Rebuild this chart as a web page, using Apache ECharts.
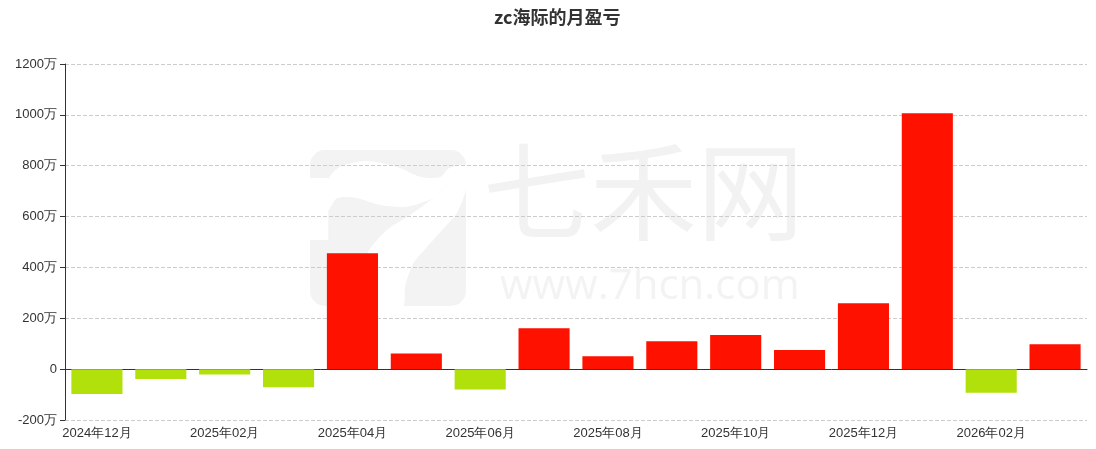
<!DOCTYPE html>
<html>
<head>
<meta charset="utf-8">
<script src="https://cdn.jsdelivr.net/npm/echarts@6/dist/echarts.min.js"></script>
<style>html,body{margin:0;padding:0;background:#fff}#c{width:1096px;height:449px}</style>
</head>
<body>
<div id="c"></div>
<script>
const titleText = 'zc海际的月盈亏';
const categories = ['2024年12月','2025年01月','2025年02月','2025年03月','2025年04月','2025年05月','2025年06月','2025年07月','2025年08月','2025年09月','2025年10月','2025年11月','2025年12月','2026年01月','2026年02月','2026年03月'];
const values = [-98, -39, -21, -71, 456, 62, -80, 161, 51, 110, 134, 75, 259, 1006, -93, 98];
const yMin = -200, yMax = 1200, yInterval = 200;

const wmGray = '#f3f3f3';
const chart = echarts.init(document.getElementById('c'));
chart.setOption({
  animation: false,
  title: { text: titleText, left: 489, top: 3, textStyle: { fontSize: 18, fontWeight: 'bold', color: '#333', fontFamily: 'Noto Sans CJK SC' } },
  graphic: [
    { type: 'rect', z: -2, silent: true, shape: { x: 310, y: 150, width: 156, height: 156, r: 15 }, style: { fill: wmGray } },
    { type: 'rect', z: -1, silent: true, shape: { x: 300, y: 178, width: 28.3, height: 62 }, style: { fill: '#fff' } },
    { type: 'polygon', z: -1, silent: true, shape: { smooth: 0.25, points: [
      [328.3,179.3],[340,166.7],[366.7,160.7],[396.7,166.7],[420,176.7],[440,177.3],[449,168.3],[466,165],
      [466,186.7],[445,188.3],[433.3,198.3],[406.7,206.7],[380,205],[353.3,197.3],[336.7,198.3],[328.3,210]
    ] }, style: { fill: '#fff' } },
    { type: 'polygon', z: -1, silent: true, shape: { smooth: 0.2, points: [
      [433.3,198.3],[445,188.3],[466,186.7],[456.7,213.3],[433.3,240],[413.3,263.3],[405,286.7],[403.3,306],
      [366.7,306],[366.7,255],[386.7,230],[410,215]
    ] }, style: { fill: '#fff' } },
    { type: 'text', z: -1, silent: true, left: 483, top: 138, style: { text: '七禾网', font: '107px "Noto Sans CJK SC"', fill: '#f2f2f2' } },
    { type: 'text', z: -1, silent: true, left: 500, top: 266, style: { text: 'www.7hcn.com', font: '42px "Open Sans"', fill: wmGray } }
  ],
  grid: { left: 65, right: 9, top: 64, bottom: 29, outerBoundsMode: 'none', containLabel: false },
  xAxis: [{
    type: 'category', data: categories, position: 'bottom',
    axisLine: { show: false, onZero: false },
    axisTick: { show: false },
    axisLabel: { interval: 1, margin: 7, color: '#333', fontSize: 13 }
  }, {
    type: 'category', data: categories, position: 'bottom',
    axisLine: { onZero: true, lineStyle: { color: '#333' } },
    axisTick: { alignWithLabel: true, interval: 1, lineStyle: { color: '#333' } },
    axisLabel: { show: false }
  }],
  yAxis: {
    type: 'value', min: yMin, max: yMax, interval: yInterval,
    axisLine: { show: true, lineStyle: { color: '#333' } },
    axisTick: { show: true, lineStyle: { color: '#333' } },
    axisLabel: { color: '#333', fontSize: 13, formatter: v => v === 0 ? '0' : v + '万' },
    splitLine: { lineStyle: { type: 'dashed', color: '#ccc' } }
  },
  series: [{
    type: 'bar', data: values, barCategoryGap: '20%', xAxisIndex: 0,
    itemStyle: { color: p => p.value >= 0 ? '#ff1100' : '#b1e00a' }
  }]
});
</script>
</body>
</html>
